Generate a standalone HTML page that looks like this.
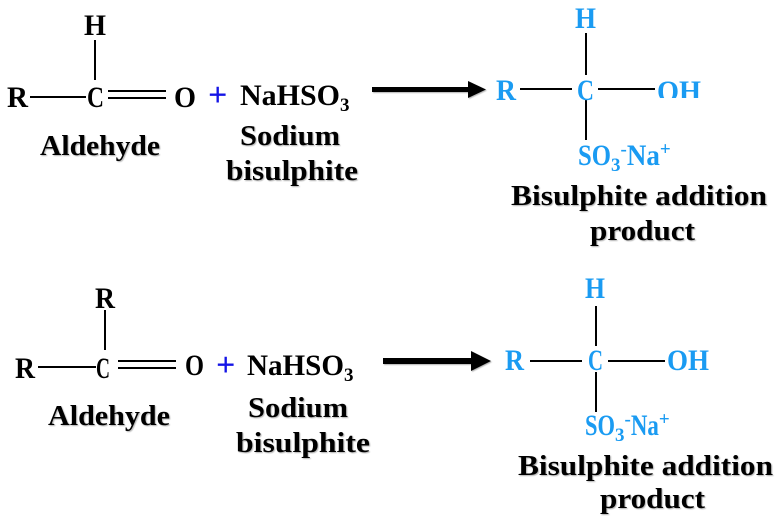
<!DOCTYPE html>
<html><head><meta charset="utf-8"><style>
html,body{margin:0;padding:0;background:#fff;width:777px;height:524px;overflow:hidden}
svg text{font-family:"Liberation Serif",serif;font-weight:bold}
</style></head><body>
<svg width="777" height="524" viewBox="0 0 777 524" xmlns="http://www.w3.org/2000/svg">
<defs><filter id="sh"><feDropShadow dx="1" dy="1" stdDeviation="0.6" flood-color="#000" flood-opacity="0.3"/></filter></defs>
<g stroke="#000" stroke-width="2" fill="none">
<line x1="95" y1="40" x2="95" y2="80"/>
<line x1="30" y1="97" x2="86" y2="97"/>
<line x1="108" y1="91" x2="166" y2="91"/>
<line x1="108" y1="98" x2="166" y2="98"/>
<line x1="105" y1="310" x2="105" y2="350"/>
<line x1="38" y1="367" x2="96" y2="367"/>
<line x1="118" y1="361" x2="176" y2="361"/>
<line x1="118" y1="368" x2="176" y2="368"/>
<line x1="520" y1="89" x2="572" y2="89"/>
<line x1="598" y1="89" x2="655" y2="89"/>
<line x1="586" y1="33" x2="586" y2="75"/>
<line x1="586" y1="100" x2="586" y2="140"/>
<line x1="530" y1="361" x2="582" y2="361"/>
<line x1="608" y1="361" x2="665" y2="361"/>
<line x1="596" y1="306" x2="596" y2="346"/>
<line x1="596" y1="372" x2="596" y2="412"/>
</g>
<g filter="url(#sh)">
<rect x="372" y="87" width="98" height="5" fill="#000"/>
<polygon points="468,81 486,89.5 468,98" fill="#000"/>
<rect x="383" y="358" width="90" height="6" fill="#000"/>
<polygon points="471,351 491,361 471,371" fill="#000"/>
</g>
<g font-size="30" fill="#000">
<text x="84" y="35" textLength="22" lengthAdjust="spacingAndGlyphs">H</text>
<text x="7" y="107" textLength="21" lengthAdjust="spacingAndGlyphs">R</text>
<text x="87" y="107" textLength="17" lengthAdjust="spacingAndGlyphs">C</text>
<text x="174" y="107" textLength="22" lengthAdjust="spacingAndGlyphs">O</text>
<text x="240" y="105"><tspan textLength="100" lengthAdjust="spacingAndGlyphs">NaHSO</tspan><tspan font-size="19" dy="6">3</tspan></text>
<g font-size="28" filter="url(#sh)">
<text x="40" y="155" textLength="120" lengthAdjust="spacingAndGlyphs">Aldehyde</text>
<text x="240" y="145" textLength="100" lengthAdjust="spacingAndGlyphs">Sodium</text>
<text x="226" y="180" textLength="132" lengthAdjust="spacingAndGlyphs">bisulphite</text>
<text x="511" y="205" textLength="256" lengthAdjust="spacingAndGlyphs">Bisulphite addition</text>
<text x="590" y="240" textLength="105" lengthAdjust="spacingAndGlyphs">product</text>
</g>
<text x="95" y="308" textLength="20" lengthAdjust="spacingAndGlyphs">R</text>
<text x="15" y="378" textLength="20" lengthAdjust="spacingAndGlyphs">R</text>
<text x="96" y="378" textLength="14" lengthAdjust="spacingAndGlyphs">C</text>
<text x="185" y="375" textLength="19" lengthAdjust="spacingAndGlyphs">O</text>
<text x="247" y="375"><tspan textLength="97" lengthAdjust="spacingAndGlyphs">NaHSO</tspan><tspan font-size="19" dy="6">3</tspan></text>
<g font-size="28" filter="url(#sh)">
<text x="48" y="425" textLength="122" lengthAdjust="spacingAndGlyphs">Aldehyde</text>
<text x="248" y="417" textLength="100" lengthAdjust="spacingAndGlyphs">Sodium</text>
<text x="236" y="452" textLength="134" lengthAdjust="spacingAndGlyphs">bisulphite</text>
<text x="518" y="475" textLength="255" lengthAdjust="spacingAndGlyphs">Bisulphite addition</text>
<text x="600" y="508" textLength="105" lengthAdjust="spacingAndGlyphs">product</text>
</g>
</g>
<text x="208" y="106" font-size="34" fill="#1414e6">+</text>
<text x="216" y="376" font-size="34" fill="#1414e6">+</text>
<g font-size="30" fill="#1a9bf2">
<text x="575" y="28" textLength="21" lengthAdjust="spacingAndGlyphs">H</text>
<text x="496" y="100" textLength="20" lengthAdjust="spacingAndGlyphs">R</text>
<text x="577" y="100" textLength="17" lengthAdjust="spacingAndGlyphs">C</text>
<svg x="650" y="70" width="60" height="28" overflow="hidden"><text x="7" y="31" textLength="44" lengthAdjust="spacingAndGlyphs">OH</text></svg>
<text x="578" y="165"><tspan textLength="33" lengthAdjust="spacingAndGlyphs">SO</tspan><tspan font-size="19" dy="6">3</tspan><tspan font-size="19" dy="-16">-</tspan><tspan dy="10" textLength="33" lengthAdjust="spacingAndGlyphs">Na</tspan><tspan font-size="19" dy="-10">+</tspan></text>
<text x="585" y="298" textLength="20" lengthAdjust="spacingAndGlyphs">H</text>
<text x="505" y="370" textLength="19" lengthAdjust="spacingAndGlyphs">R</text>
<text x="588" y="370" textLength="15" lengthAdjust="spacingAndGlyphs">C</text>
<text x="667" y="370" textLength="42" lengthAdjust="spacingAndGlyphs">OH</text>
<text x="585" y="435"><tspan textLength="30" lengthAdjust="spacingAndGlyphs">SO</tspan><tspan font-size="19" dy="6">3</tspan><tspan font-size="19" dy="-16">-</tspan><tspan dy="10" textLength="28" lengthAdjust="spacingAndGlyphs">Na</tspan><tspan font-size="19" dy="-10">+</tspan></text>
</g>
</svg>
</body></html>
